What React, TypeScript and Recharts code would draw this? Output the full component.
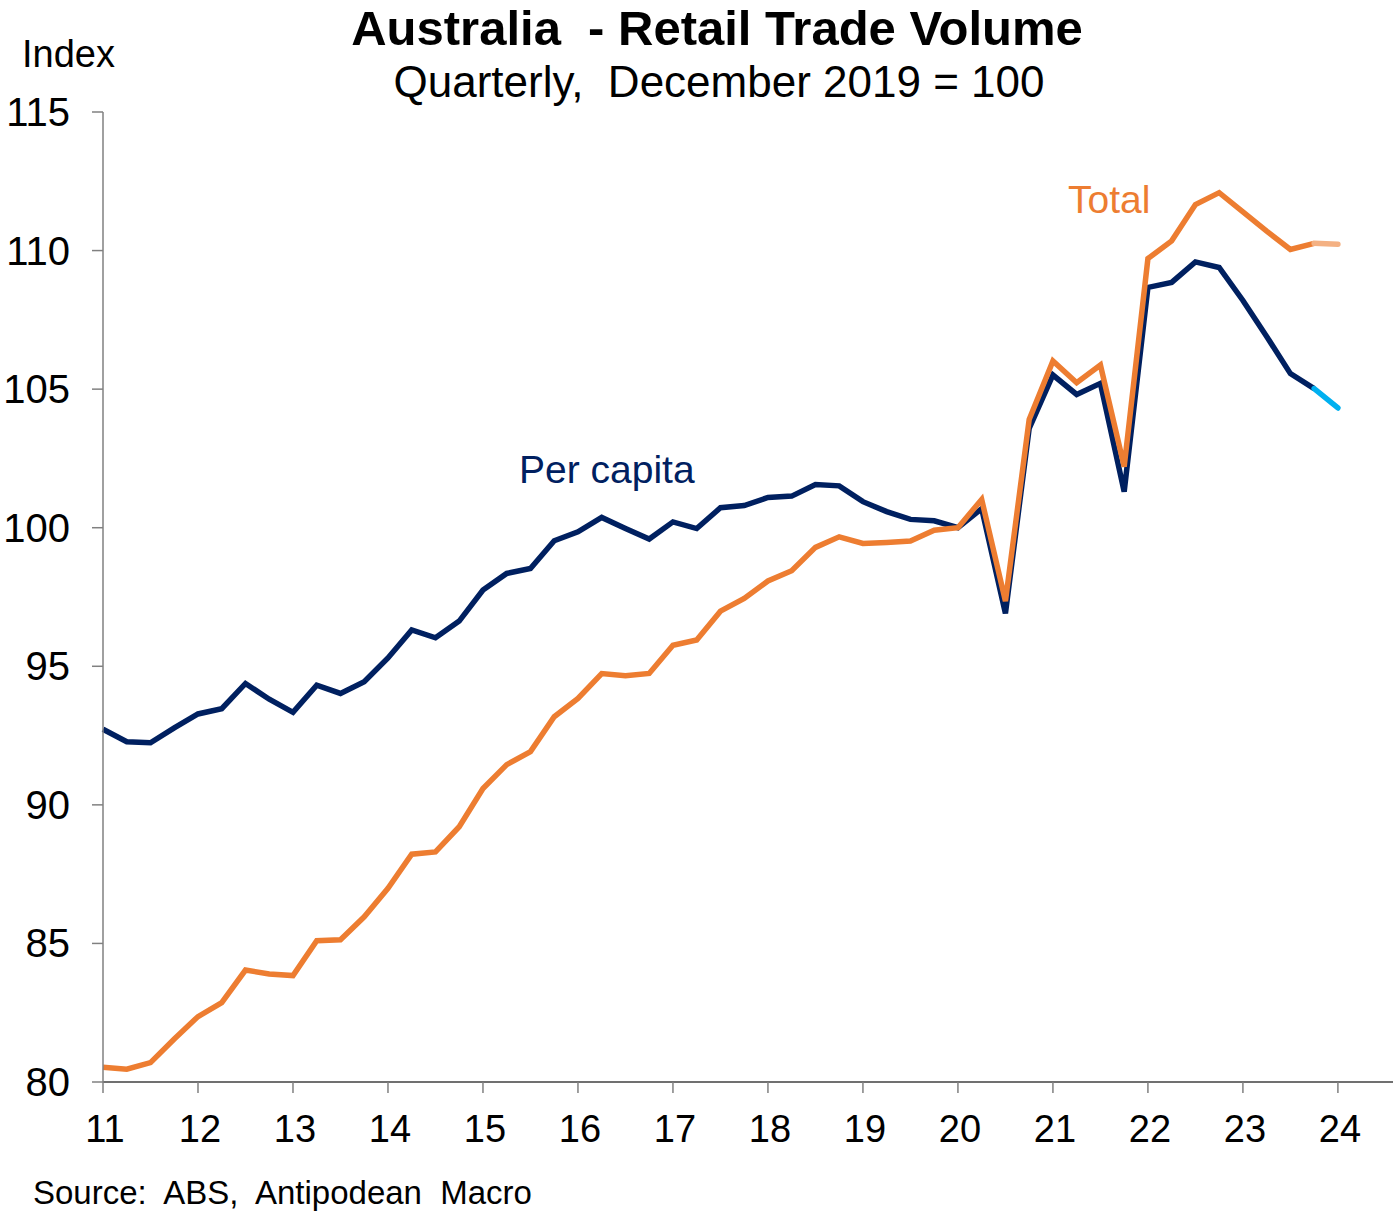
import React from "react";
import { LineChart, Line, XAxis, YAxis } from "recharts";

// Quarterly index, December 2019 = 100. First point is Dec 2010 (plotted at 11.0)
const perCapita = [
  92.73, 92.28, 92.24, 92.78, 93.28, 93.47, 94.38, 93.81, 93.34, 94.32, 94.02, 94.44,
  95.3, 96.31, 96.03, 96.63, 97.75, 98.35, 98.53, 99.53, 99.85, 100.37, 99.97, 99.59,
  100.21, 99.97, 100.72, 100.8, 101.09, 101.14, 101.56, 101.51, 100.94, 100.58, 100.3, 100.25,
  100.0, 100.69, 96.91, 103.58, 105.51, 104.81, 105.21, 101.3, 108.67, 108.85, 109.59, 109.39,
  108.2, 106.9, 105.56, 105.02,
];

const total = [
  80.53, 80.46, 80.7, 81.55, 82.36, 82.86, 84.04, 83.9, 83.84, 85.1, 85.13, 85.96,
  86.99, 88.22, 88.3, 89.21, 90.59, 91.45, 91.92, 93.18, 93.84, 94.74, 94.66, 94.74,
  95.76, 95.95, 96.99, 97.45, 98.08, 98.45, 99.29, 99.67, 99.43, 99.47, 99.52, 99.91,
  100.0, 101.02, 97.35, 103.91, 106.02, 105.23, 105.87, 102.2, 109.71, 110.35, 111.66, 112.09,
  111.4, 110.7, 110.04, 110.26,
];

// latest (Dec 2023) quarter, drawn in a lighter shade
const perCapitaLatest = 104.32;
const totalLatest = 110.23;

const yearTicks = [11, 12, 13, 14, 15, 16, 17, 18, 19, 20, 21, 22, 23, 24];
const indexTicks = [80, 85, 90, 95, 100, 105, 110, 115];

const firstQuarter = 11;

const data = perCapita.map((v, i) => ({
  t: firstQuarter + i * 0.25,
  perCapita: v,
  total: total[i],
  perCapitaLatest: i === perCapita.length - 1 ? v : null,
  totalLatest: i === total.length - 1 ? total[i] : null,
}));
data.push({
  t: firstQuarter + perCapita.length * 0.25,
  perCapita: null,
  total: null,
  perCapitaLatest: perCapitaLatest,
  totalLatest: totalLatest,
} as any);

const FONT = "'Liberation Sans', Arial, Helvetica, sans-serif";
const NAVY = "#002060";
const ORANGE = "#ED7D31";

const XTick = (props: any) => {
  const { x, y, payload } = props;
  return (
    <text x={x + 2} y={y} dy={27} textAnchor="middle" fontFamily={FONT} fontSize={38} fill="#000">
      {payload.value}
    </text>
  );
};

const YTick = (props: any) => {
  const { x, y, payload } = props;
  return (
    <text x={x} y={y} dy={14} textAnchor="end" fontFamily={FONT} fontSize={40} fill="#000">
      {payload.value}
    </text>
  );
};

export default function App() {
  return (
    <div style={{ position: "absolute", left: 0, top: 0, width: 1393, height: 1215, background: "#fff" }}>
      <LineChart
        width={1393}
        height={1215}
        data={data}
        margin={{ top: 112, right: 0, left: 0, bottom: 0 }}
      >
        <XAxis
          dataKey="t"
          type="number"
          domain={[11, 24.58]}
          ticks={yearTicks}
          height={133}
          stroke="#404040"
          strokeWidth={1.5}
          tickLine={{ stroke: "#808080", strokeWidth: 1.5 }}
          tickSize={11}
          tickMargin={22}
          tick={XTick}
          interval={0}
        />
        <YAxis
          type="number"
          domain={[80, 115]}
          ticks={indexTicks}
          width={103}
          stroke="#808080"
          strokeWidth={1.5}
          tickLine={{ stroke: "#808080", strokeWidth: 1.5 }}
          tickSize={11}
          tickMargin={22}
          tick={YTick}
          interval={0}
        />
        <Line
          dataKey="perCapita"
          stroke={NAVY}
          strokeWidth={5.5}
          dot={false}
          isAnimationActive={false}
          connectNulls={false}
        />
        <Line
          dataKey="perCapitaLatest"
          stroke="#00B0F0"
          strokeWidth={5.5}
          strokeLinecap="round"
          dot={false}
          isAnimationActive={false}
        />
        <Line
          dataKey="total"
          stroke={ORANGE}
          strokeWidth={5.5}
          dot={false}
          isAnimationActive={false}
          connectNulls={false}
        />
        <Line
          dataKey="totalLatest"
          stroke="#F4B183"
          strokeWidth={5.5}
          strokeLinecap="round"
          dot={false}
          isAnimationActive={false}
        />
      </LineChart>
      <svg
        width={1393}
        height={1215}
        style={{ position: "absolute", left: 0, top: 0, pointerEvents: "none" }}
        fontFamily={FONT}
      >
        <text x={717} y={45} textAnchor="middle" fontSize={49} fontWeight="bold" fill="#000" style={{ whiteSpace: "pre" }}>
          {"Australia  - Retail Trade Volume"}
        </text>
        <text x={719} y={97} textAnchor="middle" fontSize={44} fill="#000" style={{ whiteSpace: "pre" }}>
          {"Quarterly,  December 2019 = 100"}
        </text>
        <text x={22} y={67} fontSize={38} fill="#000">
          Index
        </text>
        <text x={519} y={483} fontSize={39} fill={NAVY}>
          Per capita
        </text>
        <text x={1068} y={213} fontSize={39} fill={ORANGE}>
          Total
        </text>
        <text x={33} y={1204} fontSize={33} fill="#000" style={{ whiteSpace: "pre" }}>
          {"Source:  ABS,  Antipodean  Macro"}
        </text>
      </svg>
    </div>
  );
}
